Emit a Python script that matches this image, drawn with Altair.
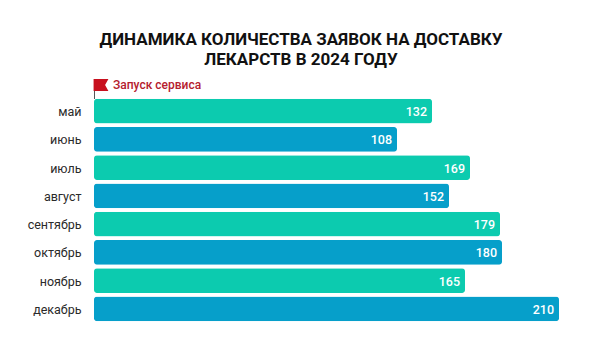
import altair as alt
import pandas as pd

months = ["май", "июнь", "июль", "август", "сентябрь", "октябрь", "ноябрь", "декабрь"]
labels = [132, 108, 169, 152, 179, 180, 165, 210]
# drawn bar lengths (the source's bars are not proportional to their labels)
lengths = [338, 303, 376, 355, 406, 408, 371, 465]
groups = ["a", "b", "a", "b", "a", "b", "a", "b"]
colors = ["#0ccbaf", "#069fca"]
title_lines = ["ДИНАМИКА КОЛИЧЕСТВА ЗАЯВОК НА ДОСТАВКУ", "ЛЕКАРСТВ В 2024 ГОДУ"]
flag_text = "Запуск сервиса"
FONT = "Roboto"
TITLE_FONT = "Roboto"

df = pd.DataFrame({"month": months, "label": labels, "length": lengths, "group": groups})

x = alt.X("length:Q", scale=alt.Scale(domain=[0, 490], nice=False), axis=None)
y = alt.Y(
    "month:N",
    sort=months,
    title=None,
    scale=alt.Scale(paddingInner=0.13, paddingOuter=0.065),
    axis=alt.Axis(domain=False, ticks=False, labelPadding=13, labelFontSize=12.5, labelOffset=1,
                  labelColor="#2a2a2a", labelFont=FONT, labelFontWeight=400),
)

bars = alt.Chart(df).mark_bar(cornerRadius=3).encode(
    x=x, y=y,
    color=alt.Color("group:N", scale=alt.Scale(domain=["a", "b"], range=colors), legend=None),
)
text = alt.Chart(df).mark_text(align="right", dx=-5, dy=1, font=FONT, fontSize=12.5, fontWeight=500, color="white").encode(
    x=x, y=y, text="label:Q"
)
pole = alt.Chart(df.head(1)).mark_rule(color="#555555", strokeWidth=1).encode(
    x=alt.value(0.5), y=alt.value(-18), y2=alt.value(2)
)
flag = alt.Chart(df.head(1)).mark_point(
    shape="M-1 -0.8 L1 -0.8 L0.55 0 L1 0.8 L-1 0.8 Z", filled=True, opacity=1, color="#c8101e", size=220
).encode(x=alt.value(7), y=alt.value(-12))
flag_label = alt.Chart(pd.DataFrame({"t": [flag_text]})).mark_text(
    align="left", baseline="middle", font=FONT, fontSize=12, fontWeight=500, color="#b5202e"
).encode(x=alt.value(19), y=alt.value(-12), text="t:N")

chart = alt.layer(bars, text, pole, flag, flag_label).properties(
    width=490, height=226,
    autosize=alt.AutoSizeParams(type="none"),
    padding={"left": 86, "top": 89, "right": 0, "bottom": 0},
    title=alt.TitleParams(title_lines, font=TITLE_FONT, fontSize=17, fontWeight=700, color="#111111",
                          anchor="middle", align="center", dx=-38, offset=10, lineHeight=20),
).configure_view(stroke=None)

chart.save("out.html", embed_options={"renderer": "svg", "actions": False})
